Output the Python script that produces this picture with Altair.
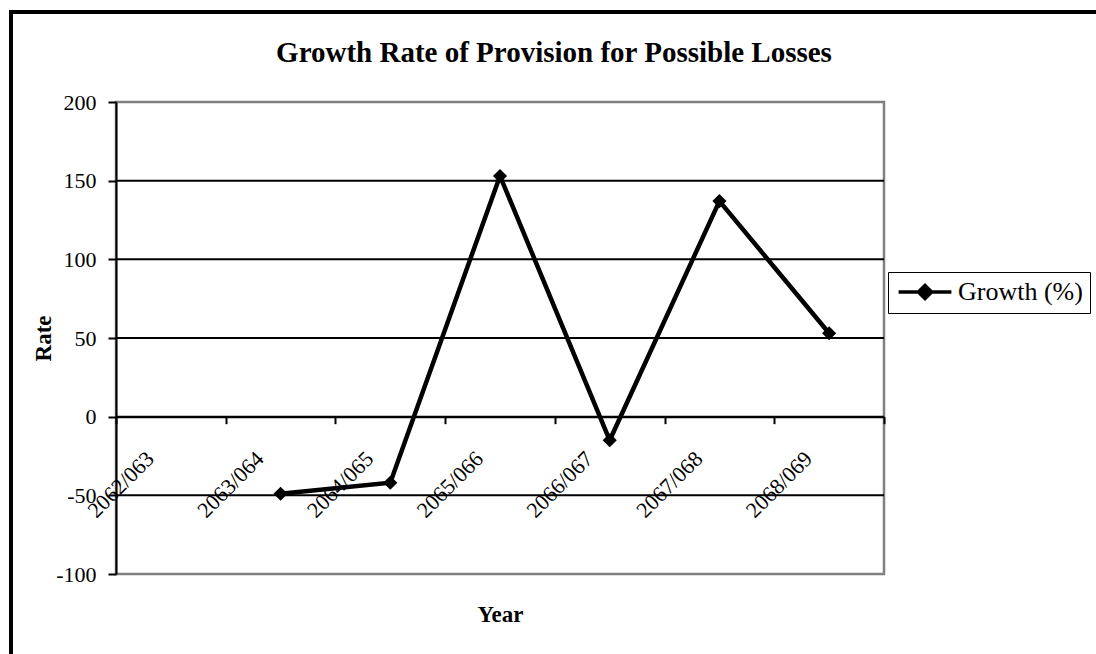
import altair as alt
import pandas as pd

# Fiscal years and growth of provision for possible losses (%)
years = ["2062/063", "2063/064", "2064/065", "2065/066", "2066/067", "2067/068", "2068/069"]
growth = [None, -49, -42, 153, -15, 137, 53]
series_name = "Growth (%)"

y_ticks = [-100, -50, 0, 50, 100, 150, 200]
grid_values = [-50, 0, 50, 100, 150]

FONT = "Liberation Serif"

df = pd.DataFrame({"year": years, "growth": growth, "series": series_name})
grid_df = pd.DataFrame({"growth": grid_values})

x_enc = alt.X(
    "year:N",
    sort=years,
    bandPosition=0.5,
    scale=alt.Scale(type="band", domain=years, paddingInner=0, paddingOuter=0),
    axis=alt.Axis(
        title="Year",
        offset=-157.33,
        domainColor="black",
        domainWidth=2,
        tickBand="extent",
        tickColor="black",
        tickWidth=2,
        tickSize=7,
        labelAngle=-45,
        labelAlign="right",
        labelBaseline="alphabetic",
        labelOffset=-16,
        labelPadding=36,
        labelFont=FONT,
        labelFontSize=22,
        labelColor="black",
        titleFont=FONT,
        titleFontSize=23,
        titleFontWeight="bold",
        titleColor="black",
        titleX=384,
        titleY=198,
        titleAlign="center",
        titleBaseline="middle",
        grid=False,
    ),
)

y_scale = alt.Scale(domain=[-100, 200], nice=False, zero=False)

y_axis = alt.Axis(
    title="Rate",
    values=y_ticks,
    labelExpr="'' + datum.value",
    grid=False,
    domainColor="black",
    domainWidth=2,
    tickColor="black",
    tickWidth=2,
    tickSize=8,
    labelPadding=12,
    labelFont=FONT,
    labelFontSize=22,
    labelColor="black",
    titleFont=FONT,
    titleFontSize=23,
    titleFontWeight="bold",
    titleColor="black",
    titleX=-73,
    titleY=236,
    titleAngle=-90,
    titleAlign="center",
    titleBaseline="middle",
)

y_enc = alt.Y("growth:Q", scale=y_scale, axis=y_axis)

# horizontal gridlines (the plot border stands in for the ones at -100 and 200)
grid = alt.Chart(grid_df).mark_rule(color="black", strokeWidth=2).encode(y=y_enc)

line = alt.Chart(df).mark_line(strokeWidth=4.5).encode(
    x=x_enc,
    y=y_enc,
    color=alt.Color(
        "series:N",
        scale=alt.Scale(range=["black"]),
        legend=alt.Legend(
            title=None,
            orient="none",
            legendX=772,
            legendY=170,
            symbolType="M-4.4,0L4.4,0M0,-1.1L1.1,0L0,1.1L-1.1,0Z",
            symbolSize=144,
            symbolStrokeWidth=3.5,
            symbolFillColor="black",
            symbolStrokeColor="black",
            symbolOffset=17,
            labelOffset=20,
            labelFont=FONT,
            labelFontSize=26,
            labelColor="black",
            strokeColor="black",
            fillColor="white",
            padding=7,
        ),
    ),
)

points = alt.Chart(df).mark_point(
    shape="diamond", filled=True, size=200, color="black", opacity=1
).encode(x=x_enc, y=y_enc)

# outer chart-area frame
frame = alt.Chart(alt.Data(values=[{}])).mark_rect(
    fillOpacity=0, stroke="black", strokeWidth=4
).encode(
    x=alt.value(-105),
    y=alt.value(-90),
    x2=alt.value(1100),
    y2=alt.value(700),
)

chart = (
    alt.layer(frame, grid, line, points)
    .properties(
        width=768,
        height=472,
        padding={"left": 116, "top": 102, "right": 212, "bottom": 80},
        autosize=alt.AutoSizeParams(type="none"),
        background="white",
        title=alt.TitleParams(
            "Growth Rate of Provision for Possible Losses",
            font=FONT,
            fontSize=29,
            fontWeight="bold",
            color="black",
            anchor="middle",
            dx=54,
            dy=94,
            offset=36,
        ),
    )
    .configure_view(stroke="#808080", strokeWidth=2.5)
)

chart.save("out.html", embed_options={"renderer": "svg", "actions": False})
